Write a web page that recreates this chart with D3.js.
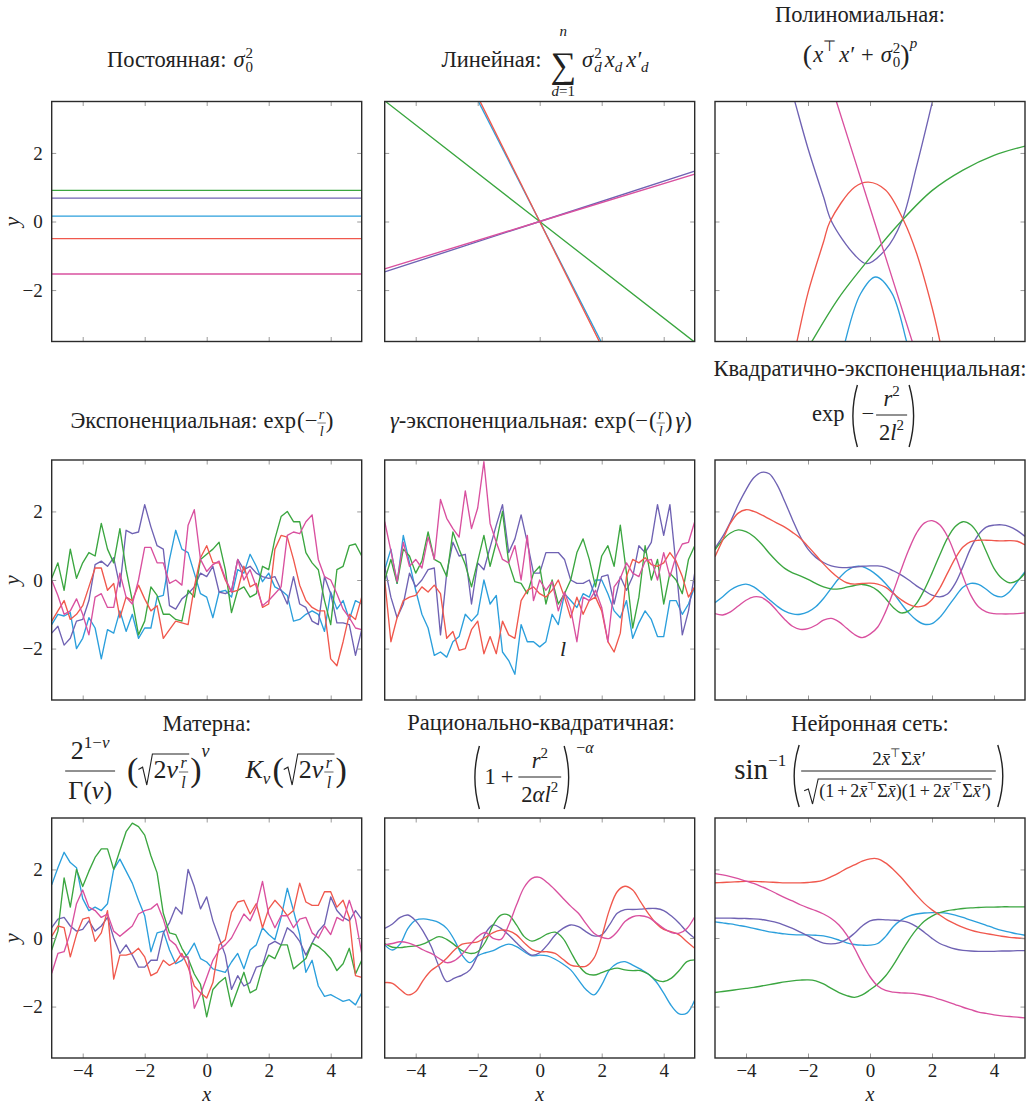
<!DOCTYPE html>
<html lang="ru">
<head>
<meta charset="utf-8">
<title>Ядра гауссовских процессов</title>
<script src="https://cdn.jsdelivr.net/npm/d3@7"></script>
<style>
  body { margin: 0; background: #fff; }
  text { fill: #222; }
</style>
</head>
<body>
<script>
// ---- data ----
var xTicks = [-4, -2, 0, 2, 4];
var xTickLabels = ["−4", "−2", "0", "2", "4"];
var yTicks = [-2, 0, 2];
var yTickLabels = ["−2", "0", "2"];

// sample grids
var noisyX = d3.range(51).map(function(i) { return -5 + 0.2 * i; });
var smoothX = d3.range(41).map(function(i) { return -5 + 0.25 * i; });

// constant kernel
var constX = [-5, 5];
var constBlue = [0.155, 0.155];
var constPurple = [0.68, 0.68];
var constGreen = [0.91, 0.91];
var constRed = [-0.5, -0.5];
var constPink = [-1.53, -1.53];

// linear kernel (values at x = -5, 0, 5)
var linX = [-5, 0, 5];
var linBlue = [8.85, 0, -8.85];
var linPurple = [-1.47, 0, 1.47];
var linGreen = [3.52, 0, -3.52];
var linRed = [9.1, 0, -9.1];
var linPink = [-1.38, 0, 1.38];

// polynomial kernel
var polyBlueX = [-0.85, -0.78, -0.3, 0.18, 0.7, 1.16, 1.25];
var polyBlue = [-3.75, -3.43, -2.1, -1.62, -2.08, -3.43, -3.75];
var polyPurpleX = [-2.6, -2.42, -2, -1.5, -1.24, -0.5, -0.11, 0.5, 1.02, 1.5, 2.01, 2.15];
var polyPurple = [4.06, 3.48, 2.13, 0.72, 0.0, -0.97, -1.23, -0.82, 0.0, 1.6, 3.48, 4.0];
var polyGreenX = [-2.0, -1.83, -1, 0, 1, 2, 3, 4, 5];
var polyGreen = [-3.7, -3.43, -2.22, -1.06, 0.0, 0.9, 1.5, 1.93, 2.2];
var polyRedX = [-2.45, -2.34, -2, -1.5, -1.29, -0.5, -0.05, 0.5, 1.1, 1.5, 2, 2.24, 2.35];
var polyRed = [-3.9, -3.43, -2.08, -0.6, 0.0, 1.0, 1.15, 0.92, 0.0, -0.92, -2.5, -3.43, -3.9];
var polyPinkX = [-1.2, 0, 1.45];
var polyPink = [3.83, 0.4, -3.75];

// exponential kernel
var expBlue = [-1.3,-1.0,-1.05,-0.95,-2.0,-1.7,-1.1,-1.4,-2.3,-1.45,-1.55,-0.9,-1.5,-1.0,-1.7,-1.4,-1.4,-0.5,-0.45,0.6,1.45,0.9,0.8,0.2,-0.4,-0.5,-1.1,-0.35,-0.3,-0.5,0.3,0.2,0.75,0.4,-0.05,0.2,-0.2,-0.3,-0.45,-1.2,-1.15,-1.0,-0.9,-1.0,-1.5,-0.35,-0.85,-0.6,-1.15,-0.6,-0.7];
var expPurple = [-1.55,-1.35,-1.9,-1.7,-1.2,-1.15,-0.6,0.45,0.55,0.4,0.65,-0.2,1.45,1.35,1.4,2.2,1.55,1.0,0.9,-0.75,-0.85,-0.55,-0.4,-0.2,0.2,0.1,0.4,-0.35,-0.4,-0.3,0.6,0.3,0.4,0.2,0.1,0.05,0.1,-0.3,-0.7,0.1,-0.7,-0.8,-1.2,-1.3,0.1,-0.4,-1.25,-1.25,-1.3,-2.2,-1.45];
var expGreen = [0.05,0.5,-0.3,0.9,0.05,0.5,0.8,0.7,1.65,0.9,0.5,1.5,0.3,-0.6,-1.6,-1.2,-0.2,-0.45,-1.0,-1.0,-1.15,-1.2,-0.3,-0.5,0.6,0.75,0.9,1.1,0.3,-0.95,-0.3,-0.2,-0.5,-0.4,0.4,0.3,1.2,1.85,2.0,1.7,1.7,0.8,0.5,0.3,-0.6,-1.3,0.3,0.4,1.0,1.05,0.7];
var expRed = [-1.2,-0.9,-0.6,-1.15,-1.0,-0.75,-0.2,0.35,0.35,-0.3,-0.1,-1.1,-0.5,-0.6,-0.15,-0.55,-0.9,-0.75,-1.7,-1.45,-1.2,-1.25,-1.3,-0.2,0.65,1.0,0.5,0.5,0.0,-0.35,-0.3,0.4,-0.2,-0.1,-0.8,-0.7,0.9,1.3,1.25,0.6,-0.15,-0.6,-0.8,-0.9,-0.9,-2.3,-2.5,-1.8,-1.0,-1.15,-0.5];
var expPink = [0.0,-0.45,-1.0,-0.9,-0.55,-1.0,-1.6,-0.5,-0.4,-0.8,-0.8,0.2,-0.5,-0.7,0.0,0.95,0.95,0.5,0.5,-0.1,0.0,-0.15,1.6,2.05,0.6,0.25,0.45,0.55,0.05,-0.35,0.6,0.0,0.3,-0.2,-0.75,-0.6,-0.4,-0.2,1.3,1.4,1.35,1.7,1.9,0.6,0.1,0.0,-0.4,-0.85,-1.1,-1.4,-1.45];

// gamma-exponential kernel
var gamBlue = [0.3,0.9,-0.1,1.3,0.5,-0.3,-1.0,-1.4,-2.2,-2.1,-2.25,-1.8,-1.65,-1.0,-1.2,-1.0,0.0,-0.7,-0.45,-2.1,-2.35,-2.75,-1.3,-1.8,-1.8,-1.95,-1.8,-1.0,-1.3,-0.4,-0.6,-0.8,-0.4,-0.5,0.0,0.0,-0.4,-0.9,-1.1,-0.6,-1.7,-1.25,-0.9,-1.15,-1.65,-1.65,-0.6,-0.6,-1.0,-0.7,-0.2];
var gamPurple = [0.4,-0.5,-1.1,-0.7,0.2,-0.2,0.0,0.3,0.35,-1.6,0.2,1.1,0.7,0.75,-0.7,0.5,0.3,0.95,1.6,2.2,0.8,1.2,1.9,1.1,0.2,0.2,0.8,0.8,0.8,0.6,0.0,-0.1,-0.1,0.0,-0.5,0.1,0.15,-0.7,0.1,-0.3,0.1,1.0,0.8,1.1,2.2,1.3,2.2,0.4,-1.6,-0.9,0.2];
var gamGreen = [0.0,0.6,-0.1,0.9,0.7,0.2,0.55,1.4,0.6,0.5,0.1,1.4,0.9,0.45,-0.2,0.55,1.3,0.4,1.1,2.0,0.5,-0.05,-0.1,-0.4,0.2,0.4,-0.7,0.0,-0.7,-0.4,0.0,0.8,1.2,0.6,-0.2,0.7,1.0,0.4,1.6,0.2,-1.4,-0.5,1.0,0.0,0.6,-0.7,0.2,0.0,-0.4,0.6,1.0];
var gamRed = [0.0,-1.8,-1.1,-0.6,-0.5,-0.45,-0.2,-0.35,-0.15,-0.4,-1.7,-1.5,-2.05,-2.0,-1.45,-1.2,-2.15,-1.65,-2.15,-1.2,-1.6,-1.7,-0.6,-0.3,-0.2,-0.4,-0.5,-0.3,0.0,-0.5,-1.1,-0.5,-1.0,-0.6,-0.5,-0.9,-1.8,-2.1,-1.55,0.1,0.6,0.5,0.65,0.45,0.4,0.5,0.8,0.55,0.1,-0.5,-0.2];
var gamPink = [1.7,0.85,-0.05,1.1,0.4,0.6,0.35,1.25,0.6,2.35,1.8,1.5,1.25,2.6,1.5,2.1,3.45,1.65,1.1,0.6,0.5,1.0,0.0,1.3,-0.6,0.0,-0.3,-0.05,-0.9,-0.35,-0.85,-1.8,-0.5,-0.6,-0.3,-0.8,-1.8,-0.2,0.05,0.5,0.2,0.1,0.55,0.6,0.0,0.8,0.1,0.7,1.05,1.1,1.7];

// squared-exponential kernel
var seBlue = [-0.66,-0.49,-0.29,-0.17,-0.12,-0.2,-0.37,-0.57,-0.76,-0.91,-0.99,-1.0,-0.93,-0.78,-0.54,-0.24,0.05,0.27,0.39,0.39,0.29,0.12,-0.1,-0.37,-0.68,-0.96,-1.17,-1.29,-1.27,-1.09,-0.8,-0.49,-0.21,-0.1,-0.13,-0.27,-0.44,-0.49,-0.34,-0.05,0.24];
var sePurple = [0.93,1.27,1.7,2.2,2.63,2.98,3.14,3.1,2.78,2.29,1.76,1.27,0.9,0.66,0.51,0.41,0.37,0.36,0.38,0.4,0.41,0.41,0.37,0.27,0.15,0.0,-0.17,-0.31,-0.44,-0.49,-0.41,-0.1,0.39,0.93,1.32,1.54,1.6,1.61,1.56,1.44,1.27];
var seGreen = [0.88,1.17,1.37,1.46,1.41,1.27,1.05,0.78,0.54,0.34,0.21,0.12,0.02,-0.1,-0.2,-0.26,-0.26,-0.21,-0.16,-0.13,-0.18,-0.31,-0.54,-0.8,-0.96,-0.9,-0.68,-0.29,0.2,0.73,1.22,1.56,1.7,1.61,1.32,0.83,0.34,0.05,-0.08,-0.02,0.2];
var seRed = [0.68,1.17,1.66,1.95,2.05,2.0,1.9,1.78,1.66,1.54,1.39,1.22,0.98,0.73,0.47,0.24,0.05,-0.08,-0.12,-0.1,-0.09,-0.12,-0.21,-0.39,-0.57,-0.71,-0.78,-0.75,-0.57,-0.24,0.2,0.63,0.96,1.12,1.16,1.16,1.15,1.14,1.15,1.13,1.02];
var sePink = [-0.98,-1.02,-0.93,-0.76,-0.59,-0.49,-0.51,-0.66,-0.9,-1.15,-1.35,-1.44,-1.42,-1.32,-1.17,-1.12,-1.22,-1.41,-1.59,-1.68,-1.58,-1.37,-0.93,-0.34,0.29,0.88,1.37,1.66,1.73,1.61,1.27,0.73,0.1,-0.44,-0.78,-0.93,-0.98,-0.99,-0.99,-0.98,-0.96];

// Matern kernel
var matBlue = [1.55,2.05,2.5,2.2,2.05,1.15,0.8,0.9,0.8,1.0,2.0,2.3,1.95,1.6,1.1,0.65,-0.4,0.15,0.2,-0.35,-0.75,-0.65,-0.45,-0.15,-0.6,-0.7,-0.9,-0.95,-1.0,-0.7,-0.45,-0.9,-0.35,-0.2,0.3,0.1,-0.05,0.6,1.45,0.8,0.1,-1.0,-0.65,-1.4,-1.7,-1.65,-1.75,-1.85,-1.8,-1.95,-1.6];
var matPurple = [0.3,0.55,0.6,0.35,0.2,0.25,0.5,0.2,0.35,0.6,0.0,-0.45,-0.2,-0.5,-0.85,-0.85,-0.65,-0.65,0.15,0.45,0.9,0.7,2.0,1.5,0.85,1.2,0.5,0.0,-0.5,-1.5,-1.1,-1.4,-1.3,-0.85,-0.8,-0.2,-0.1,-0.2,0.3,0.15,-0.1,-0.5,-0.15,0.2,0.4,1.2,0.8,0.6,0.5,0.8,0.55];
var matGreen = [-0.35,0.2,1.75,0.9,2.0,1.5,1.95,2.35,2.6,2.6,2.0,2.55,3.1,3.35,3.25,3.0,2.4,1.9,0.72,0.15,0.1,-0.3,-0.6,-1.05,-1.35,-2.3,-1.5,-1.3,-1.15,-2.0,-1.5,-1.0,-1.6,-1.5,-0.85,-0.5,-0.6,-0.2,-0.2,-0.9,-0.75,-0.6,-0.15,-0.25,-0.4,-0.6,-0.95,-0.75,-0.3,-1.05,-0.65];
var matRed = [0.05,0.35,0.3,-0.55,0.1,0.55,0.6,-0.1,0.15,0.8,-1.2,-0.5,-0.5,-0.45,-0.3,-0.55,-1.1,-1.0,-0.65,-0.8,-0.7,-0.45,-0.85,-1.4,-1.6,-1.75,-1.3,-0.2,-0.05,0.75,1.05,1.1,0.7,1.0,0.3,0.85,1.1,0.9,0.65,0.8,1.6,1.05,0.95,0.95,1.35,1.35,0.9,1.1,0.6,-1.1,-1.15];
var matPink = [-1.03,-0.45,-0.4,0.15,1.0,1.4,0.9,0.8,0.6,0.7,0.2,0.05,0.2,0.35,0.7,0.8,0.85,1.0,0.55,-0.05,-0.2,-0.55,-0.55,-2.05,-1.65,-1.15,-0.65,-0.35,-0.2,0.0,0.35,0.7,0.5,0.9,1.65,0.7,0.3,0.65,0.65,0.3,0.55,0.6,0.15,0.0,0.35,0.1,0.6,0.5,1.1,0.55,-0.45];

// rational quadratic kernel
var rqBlue = [-0.2,-0.35,-0.17,0.28,0.52,0.56,0.52,0.45,0.28,-0.06,-0.5,-0.72,-0.52,-0.43,-0.37,-0.25,-0.18,-0.25,-0.4,-0.52,-0.5,-0.52,-0.62,-0.76,-0.93,-1.22,-1.51,-1.66,-1.37,-0.93,-0.74,-0.69,-0.79,-0.91,-1.05,-1.27,-1.61,-1.98,-2.21,-2.19,-1.81];
var rqPurple = [0.28,0.41,0.6,0.67,0.5,0.18,-0.25,-0.83,-1.27,-1.17,-1.08,-0.93,-0.5,0.14,0.38,0.28,0.09,-0.14,-0.35,-0.5,-0.43,-0.2,0.09,0.28,0.38,0.33,0.18,0.06,0.09,0.38,0.72,0.83,0.83,0.84,0.86,0.86,0.8,0.64,0.43,0.18,-0.01];
var rqGreen = [-0.16,-0.27,-0.28,-0.25,-0.23,-0.17,-0.06,0.04,-0.04,-0.2,-0.37,-0.45,-0.4,-0.11,0.38,0.67,0.67,0.38,0.04,-0.09,-0.01,0.12,0.17,-0.01,-0.4,-0.79,-1.03,-1.08,-1.01,-0.93,-0.88,-0.93,-0.95,-0.95,-1.05,-1.22,-1.27,-1.17,-0.95,-0.69,-0.64];
var rqRed = [-1.3,-1.32,-1.5,-1.66,-1.56,-1.22,-0.95,-0.79,-0.59,-0.35,-0.18,-0.14,-0.11,0.02,0.16,0.23,0.21,0.09,-0.14,-0.33,-0.4,-0.4,-0.45,-0.62,-0.79,-0.83,-0.82,-0.59,0.04,0.82,1.35,1.51,1.4,1.06,0.72,0.43,0.25,0.18,0.09,-0.11,-0.3];
var rqPink = [-0.2,-0.16,-0.11,-0.14,-0.23,-0.35,-0.45,-0.59,-0.72,-0.66,-0.47,-0.2,0.04,0.16,-0.01,-0.04,0.38,0.96,1.48,1.74,1.77,1.61,1.4,1.16,0.93,0.72,0.41,0.14,0.02,-0.01,0.18,0.48,0.62,0.65,0.6,0.45,0.28,0.16,0.14,0.28,0.62];

// neural network kernel
var nnBlue = [0.47,0.44,0.41,0.37,0.33,0.28,0.23,0.18,0.15,0.12,0.1,0.09,0.09,0.08,0.06,0.01,-0.06,-0.14,-0.19,-0.21,-0.21,-0.16,0.04,0.33,0.52,0.64,0.7,0.73,0.74,0.74,0.72,0.67,0.6,0.52,0.45,0.37,0.29,0.22,0.17,0.12,0.08];
var nnPurple = [0.58,0.58,0.58,0.57,0.57,0.56,0.54,0.5,0.45,0.37,0.28,0.17,0.06,-0.06,-0.15,-0.17,-0.14,-0.04,0.14,0.35,0.5,0.54,0.53,0.52,0.5,0.45,0.33,0.17,-0.01,-0.16,-0.25,-0.32,-0.36,-0.38,-0.39,-0.39,-0.39,-0.38,-0.38,-0.37,-0.37];
var nnGreen = [-1.59,-1.56,-1.53,-1.5,-1.47,-1.44,-1.4,-1.36,-1.32,-1.28,-1.25,-1.23,-1.22,-1.25,-1.34,-1.47,-1.59,-1.68,-1.73,-1.66,-1.51,-1.34,-1.11,-0.79,-0.42,-0.06,0.25,0.49,0.64,0.74,0.8,0.83,0.86,0.88,0.89,0.9,0.9,0.91,0.91,0.91,0.91];
var nnRed = [1.61,1.62,1.63,1.64,1.65,1.65,1.64,1.63,1.62,1.61,1.61,1.61,1.62,1.64,1.69,1.79,1.9,2.03,2.13,2.24,2.31,2.31,2.19,2.0,1.77,1.51,1.25,1.01,0.82,0.67,0.52,0.41,0.31,0.23,0.17,0.13,0.09,0.05,0.02,0.0,-0.02];
var nnPink = [1.88,1.84,1.79,1.73,1.66,1.59,1.5,1.4,1.29,1.18,1.08,0.97,0.88,0.8,0.7,0.57,0.38,0.09,-0.3,-0.74,-1.13,-1.4,-1.53,-1.58,-1.6,-1.61,-1.63,-1.67,-1.72,-1.79,-1.86,-1.94,-2.02,-2.09,-2.16,-2.2,-2.24,-2.27,-2.29,-2.31,-2.33];

// ---- style ----
var BLUE = "#2b9fdc", PURPLE = "#6f62b3", GREEN = "#3ba640", RED = "#f0584d", PINK = "#d9509f";
var INK = "#222", FRAME = "#2b2b2b", TICK = "#9a9a9a";
var FS = 22.5, SS = 15;

// pick the first serif face that is really installed
function hasFont(name) {
  var c = document.createElement("canvas").getContext("2d");
  var s = "Постоянная exp 0123 abcxyz MWiil";
  var same = true;
  ["monospace", "sans-serif"].forEach(function(fb) {
    c.font = "40px " + fb;
    var a = c.measureText(s).width;
    c.font = "40px '" + name + "', " + fb;
    if (c.measureText(s).width !== a) same = false;
  });
  return !same;
}
var SERIF = ["Liberation Serif", "DejaVu Serif", "Tinos", "Noto Serif", "FreeSerif", "Times New Roman"]
  .filter(hasFont)[0] || "Liberation Serif";
var FONT = "'" + SERIF + "', serif";

var colX = [51.7, 384.7, 715];
var rowY = [101.5, 460, 818];
var W = 310, H = 240;

function ser(color, xs, ys) { return { color: color, x: xs, y: ys }; }
var smooth = d3.curveCatmullRom.alpha(0.5);

var panels = [
  { row: 0, col: 0, curve: d3.curveLinear, series: [ser(BLUE, constX, constBlue), ser(PURPLE, constX, constPurple), ser(GREEN, constX, constGreen), ser(RED, constX, constRed), ser(PINK, constX, constPink)] },
  { row: 0, col: 1, curve: d3.curveLinear, series: [ser(BLUE, linX, linBlue), ser(PURPLE, linX, linPurple), ser(GREEN, linX, linGreen), ser(RED, linX, linRed), ser(PINK, linX, linPink)] },
  { row: 0, col: 2, curve: smooth, series: [ser(BLUE, polyBlueX, polyBlue), ser(PURPLE, polyPurpleX, polyPurple), ser(GREEN, polyGreenX, polyGreen), ser(RED, polyRedX, polyRed), ser(PINK, polyPinkX, polyPink)] },
  { row: 1, col: 0, curve: d3.curveLinear, series: [ser(BLUE, noisyX, expBlue), ser(PURPLE, noisyX, expPurple), ser(GREEN, noisyX, expGreen), ser(RED, noisyX, expRed), ser(PINK, noisyX, expPink)] },
  { row: 1, col: 1, curve: d3.curveLinear, series: [ser(BLUE, noisyX, gamBlue), ser(PURPLE, noisyX, gamPurple), ser(GREEN, noisyX, gamGreen), ser(RED, noisyX, gamRed), ser(PINK, noisyX, gamPink)] },
  { row: 1, col: 2, curve: smooth, series: [ser(BLUE, smoothX, seBlue), ser(PURPLE, smoothX, sePurple), ser(GREEN, smoothX, seGreen), ser(RED, smoothX, seRed), ser(PINK, smoothX, sePink)] },
  { row: 2, col: 0, curve: d3.curveLinear, series: [ser(BLUE, noisyX, matBlue), ser(PURPLE, noisyX, matPurple), ser(GREEN, noisyX, matGreen), ser(RED, noisyX, matRed), ser(PINK, noisyX, matPink)] },
  { row: 2, col: 1, curve: smooth, series: [ser(BLUE, smoothX, rqBlue), ser(PURPLE, smoothX, rqPurple), ser(GREEN, smoothX, rqGreen), ser(RED, smoothX, rqRed), ser(PINK, smoothX, rqPink)] },
  { row: 2, col: 2, curve: smooth, series: [ser(BLUE, smoothX, nnBlue), ser(PURPLE, smoothX, nnPurple), ser(GREEN, smoothX, nnGreen), ser(RED, smoothX, nnRed), ser(PINK, smoothX, nnPink)] }
];

var svg = d3.select("body").append("svg").attr("width", 1035).attr("height", 1108)
  .attr("font-family", FONT);
svg.append("rect").attr("width", 1035).attr("height", 1108).attr("fill", "#fff");
svg.append("defs").append("clipPath").attr("id", "clip")
  .append("rect").attr("width", W).attr("height", H);

var x = d3.scaleLinear().domain([-5, 5]).range([0, W]);
var y = d3.scaleLinear().domain([-3.5, 3.5]).range([H, 0]);

function styleTicks(sel) {
  sel.select(".domain").remove();
  sel.selectAll(".tick line").attr("stroke", TICK).attr("stroke-width", 1);
}

panels.forEach(function(p) {
  var g = svg.append("g").attr("transform", "translate(" + colX[p.col] + "," + rowY[p.row] + ")");
  var line = d3.line().x(function(d) { return x(d[0]); }).y(function(d) { return y(d[1]); }).curve(p.curve);
  var lines = g.append("g").attr("clip-path", "url(#clip)");
  p.series.forEach(function(s) {
    lines.append("path")
      .datum(d3.zip(s.x, s.y))
      .attr("d", line)
      .attr("fill", "none")
      .attr("stroke", s.color)
      .attr("stroke-width", 1.35)
      .attr("stroke-linejoin", "round");
  });

  // inward ticks on all four sides
  g.append("g").attr("transform", "translate(0," + H + ")")
    .call(d3.axisBottom(x).tickValues(xTicks).tickSizeInner(-4.5).tickSizeOuter(0).tickFormat(""))
    .call(styleTicks);
  g.append("g")
    .call(d3.axisTop(x).tickValues(xTicks).tickSizeInner(-4.5).tickSizeOuter(0).tickFormat(""))
    .call(styleTicks);
  g.append("g")
    .call(d3.axisLeft(y).tickValues(yTicks).tickSizeInner(-4.5).tickSizeOuter(0).tickFormat(""))
    .call(styleTicks);
  g.append("g").attr("transform", "translate(" + W + ",0)")
    .call(d3.axisRight(y).tickValues(yTicks).tickSizeInner(-4.5).tickSizeOuter(0).tickFormat(""))
    .call(styleTicks);

  // tick labels on outer panels
  if (p.col === 0) {
    g.append("g")
      .call(d3.axisLeft(y).tickValues(yTicks).tickSize(0).tickPadding(9)
        .tickFormat(function(d, i) { return yTickLabels[i]; }))
      .call(function(a) { a.select(".domain").remove(); })
      .attr("font-family", FONT).attr("font-size", 19);
    g.append("text")
      .attr("transform", "translate(-33," + (H / 2) + ") rotate(-90)")
      .attr("text-anchor", "middle")
      .attr("font-size", 22)
      .attr("font-style", "italic")
      .text("y");
  }
  if (p.row === 2) {
    g.append("g").attr("transform", "translate(0," + H + ")")
      .call(d3.axisBottom(x).tickValues(xTicks).tickSize(0).tickPadding(6)
        .tickFormat(function(d, i) { return xTickLabels[i]; }))
      .call(function(a) { a.select(".domain").remove(); })
      .attr("font-family", FONT).attr("font-size", 19);
    g.append("text")
      .attr("x", W / 2).attr("y", H + 43)
      .attr("text-anchor", "middle")
      .attr("font-size", 20)
      .attr("font-style", "italic")
      .text("x");
  }

  g.append("rect").attr("width", W).attr("height", H)
    .attr("fill", "none").attr("stroke", FRAME).attr("stroke-width", 1.4);
});

// stray glyph inside the gamma-exponential panel
svg.append("text").attr("x", 563).attr("y", 656).attr("text-anchor", "middle")
  .attr("font-size", 22).attr("font-style", "italic").text("l");

// ---- small formula layout ----
function txt(g, s, xx, yy, fs, it) {
  var t = g.append("text").attr("x", xx).attr("y", yy).attr("font-size", fs).html(s);
  if (it) t.attr("font-style", "italic");
  return t.node().getComputedTextLength();
}

function lay(g, items, xx, yy) {
  var x0 = xx;
  items.forEach(function(d) {
    xx += d.pre || 0;
    if (d.frac) {
      var gn = g.append("g"), gd = g.append("g");
      var wn = lay(gn, d.frac[0], 0, yy - d.up);
      var wd = lay(gd, d.frac[1], 0, yy + d.dn);
      var w = Math.max(wn, wd) + (d.pad || 4);
      gn.attr("transform", "translate(" + (xx + (w - wn) / 2) + ",0)");
      gd.attr("transform", "translate(" + (xx + (w - wd) / 2) + ",0)");
      g.append("line").attr("x1", xx).attr("x2", xx + w)
        .attr("y1", yy - d.bar).attr("y2", yy - d.bar)
        .attr("stroke", INK).attr("stroke-width", d.bw || 1);
      xx += w;
    } else if (d.sqrt) {
      var gb = g.append("g");
      var wb = lay(gb, d.sqrt, 0, yy);
      var sw = d.sw || 10, top = yy - d.h, bot = yy + (d.d || 4);
      gb.attr("transform", "translate(" + (xx + sw + 1) + ",0)");
      g.append("path")
        .attr("d", "M" + xx + "," + (yy - d.h * 0.35) + "L" + (xx + sw * 0.3) + "," + (yy - d.h * 0.45) +
          "L" + (xx + sw * 0.6) + "," + bot + "L" + (xx + sw) + "," + top + "H" + (xx + sw + wb + 2))
        .attr("fill", "none").attr("stroke", INK).attr("stroke-width", 1.1);
      xx += sw + wb + 3;
    } else if (d.paren) {
      var pw = d.w || 8, t = yy - d.h, b = yy + d.d, m = (t + b) / 2;
      var path = d.paren === "("
        ? "M" + (xx + pw) + "," + t + "Q" + xx + "," + m + " " + (xx + pw) + "," + b
        : "M" + xx + "," + t + "Q" + (xx + pw) + "," + m + " " + xx + "," + b;
      g.append("path").attr("d", path).attr("fill", "none").attr("stroke", INK).attr("stroke-width", 1.4);
      xx += pw + 2;
    } else if (d.op) {
      var parts = [[d.op, yy + d.opDy, d.opFs], [d.top, yy - d.topUp, SS], [d.bot, yy + d.botDn, SS]];
      var ts = parts.map(function(q) {
        return g.append("text").attr("y", q[1]).attr("font-size", q[2]).attr("text-anchor", "middle").html(q[0]);
      });
      var wo = d3.max(ts, function(t) { return t.node().getComputedTextLength(); });
      ts.forEach(function(t) { t.attr("x", xx + wo / 2); });
      xx += wo;
    } else if (d.sup !== undefined || d.sub !== undefined) {
      var w1 = d.sup ? txt(g, d.sup, xx, yy - (d.up || 9), d.fs || SS, d.supIt) : 0;
      var w2 = d.sub ? txt(g, d.sub, xx, yy + (d.dn || 5), d.fs || SS, d.subIt) : 0;
      xx += Math.max(w1, w2);
    } else {
      xx += txt(g, d.s, xx, yy + (d.dy || 0), d.fs || FS, d.it);
    }
    xx += d.post || 0;
  });
  return xx - x0;
}

function title(items, cx, yy) {
  var g = svg.append("g");
  var w = lay(g, items, 0, yy);
  g.attr("transform", "translate(" + (cx - w / 2) + ",0)");
}

var It = function(s) { return "<tspan font-style='italic'>" + s + "</tspan>"; };
var rOverL = { frac: [[{ s: "r", it: 1, fs: 14 }], [{ s: "l", it: 1, fs: 14 }]], up: 9, dn: 8, bar: 5, pad: 3, bw: 0.6 };
var rOverLBig = { frac: [[{ s: "r", it: 1, fs: 16 }], [{ s: "l", it: 1, fs: 16 }]], up: 10, dn: 10, bar: 6, pad: 3, bw: 0.7 };
var sqrtTerm = { sqrt: [{ s: "2", fs: 26 }, { s: "ν", it: 1, fs: 26 }, { pre: 1, frac: rOverLBig.frac, up: 10, dn: 10, bar: 6, pad: 3, bw: 0.7 }], h: 24, d: 7, sw: 14 };

// row 1
title([{ s: "Постоянная:" }, { pre: 7, s: "σ", it: 1 }, { pre: 1, sup: "2", sub: "0" }], 180, 67);
title([{ s: "Линейная:" },
  { pre: 9, op: "∑", opFs: 36, opDy: 10, top: It("n"), topUp: 31, bot: It("d") + "=1", botDn: 29 },
  { pre: 6, s: "σ", it: 1 }, { pre: 1, sup: "2", sub: "d", subIt: 1 },
  { pre: 3, s: "x", it: 1 }, { sub: "d", subIt: 1 },
  { pre: 4, s: "x′", it: 1 }, { sub: "d", subIt: 1 }], 545, 67);
title([{ s: "Полиномиальная:" }], 860, 22);
title([{ s: "(", fs: 28, dy: 2 }, { pre: 1, s: "x", it: 1 }, { sup: "⊤", up: 11, post: 3 }, { s: "x′", it: 1 },
  { pre: 7, s: "+" }, { pre: 7, s: "σ", it: 1 }, { pre: 1, sup: "2", sub: "0" },
  { s: ")", fs: 28, dy: 2 }, { sup: "p", supIt: 1, up: 14 }], 860, 62);

// row 2
title([{ s: "Экспоненциальная:" }, { pre: 6, s: "exp" }, { pre: 1, s: "(", fs: 23 }, { s: "−" }, rOverL, { s: ")", fs: 23 }], 202, 428);
title([{ s: "γ", it: 1 }, { s: "-экспоненциальная:" }, { pre: 6, s: "exp" }, { pre: 1, s: "(", fs: 23 }, { s: "−" },
  { pre: 1, s: "(" }, rOverL, { s: ")" }, { pre: 3, s: "γ", it: 1 }, { s: ")", fs: 23 }], 541, 428);
title([{ s: "Квадратично-экспоненциальная:" }], 870, 376);
title([{ s: "exp" }, { pre: 4, paren: "(", h: 36, d: 26, w: 9 }, { pre: 2, s: "−" },
  { pre: 2, frac: [[{ s: "r", it: 1 }, { sup: "2", up: 10 }], [{ s: "2" }, { s: "l", it: 1 }, { sup: "2", up: 10 }]], up: 15, dn: 19, bar: 6, pad: 6 },
  { pre: 2, paren: ")", h: 36, d: 26, w: 9 }], 866, 421);

// row 3
title([{ s: "Матерна:" }], 207, 731);
title([{ frac: [[{ s: "2", fs: 26 }, { sup: "1−" + It("ν"), up: 11, fs: 17 }], [{ s: "Γ(" + It("ν") + ")", fs: 26 }]], up: 19, dn: 21, bar: 7, pad: 6 },
  { pre: 12, s: "(", fs: 34, dy: 3 }, sqrtTerm, { s: ")", fs: 34, dy: 3 }, { sup: "ν", supIt: 1, up: 21, fs: 18 },
  { pre: 36, s: "K", it: 1, fs: 26 }, { sub: "ν", subIt: 1, dn: 6, fs: 17 },
  { pre: 2, s: "(", fs: 34, dy: 3 }, sqrtTerm, { s: ")", fs: 34, dy: 3 }], 206, 778);
title([{ s: "Рационально-квадратичная:" }], 541, 730);
title([{ paren: "(", h: 38, d: 25, w: 9 }, { pre: 3, s: "1" }, { pre: 5, s: "+" },
  { pre: 5, frac: [[{ s: "r", it: 1 }, { sup: "2", up: 10 }], [{ s: "2" }, { s: "α", it: 1 }, { s: "l", it: 1 }, { sup: "2", up: 10 }]], up: 16, dn: 18, bar: 7, pad: 6 },
  { pre: 3, paren: ")", h: 38, d: 25, w: 9 }, { pre: 1, sup: "−" + It("α"), up: 31, fs: 16 }], 532, 784);
title([{ s: "Нейронная сеть:" }], 870, 731);
var dfs = 18;
title([{ s: "sin", fs: 29 }, { sup: "−1", up: 13, fs: 17 }, { pre: 3, paren: "(", h: 34, d: 28, w: 10 },
  { frac: [
      [{ s: "2", fs: 19 }, { s: "x̄", it: 1, fs: 19 }, { sup: "⊤", up: 8, fs: 12 }, { pre: 1, s: "Σ", fs: 19 }, { s: "x̄′", it: 1, fs: 19 }],
      [{ sqrt: [{ s: "(1", fs: dfs }, { pre: 3, s: "+", fs: dfs }, { pre: 3, s: "2", fs: dfs }, { s: "x̄", it: 1, fs: dfs }, { sup: "⊤", up: 7, fs: 11 },
                { s: "Σ", fs: dfs }, { s: "x̄", it: 1, fs: dfs }, { s: ")(1", fs: dfs }, { pre: 3, s: "+", fs: dfs }, { pre: 3, s: "2", fs: dfs },
                { s: "x̄", it: 1, fs: dfs }, { sup: "′⊤", up: 7, fs: 11 }, { s: "Σ", fs: dfs }, { s: "x̄′", it: 1, fs: dfs }, { s: ")", fs: dfs }],
         h: 18, d: 7, sw: 14 }]
    ], up: 14, dn: 18, bar: 8, pad: 6 },
  { pre: 2, paren: ")", h: 34, d: 28, w: 10 }], 872, 779);
</script>
</body>
</html>
